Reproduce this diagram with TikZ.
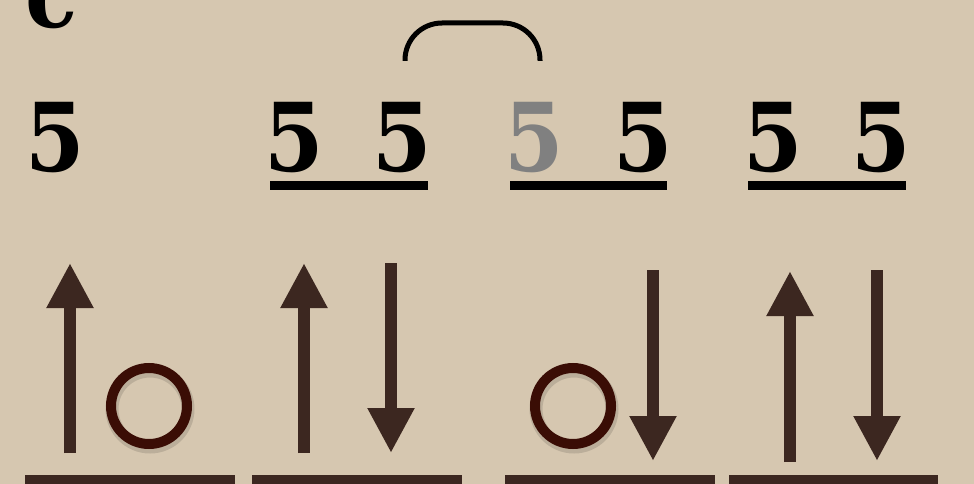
\documentclass[tikz,border=0pt]{standalone}
\usepackage{fontspec}
\newfontfamily\digitfont{DejaVu Serif Condensed}
\usetikzlibrary{arrows.meta,calc}
\definecolor{paper}{RGB}{214,199,176}
\definecolor{arrowbrown}{RGB}{60,39,32}
\definecolor{ringbrown}{RGB}{58,13,5}
\definecolor{greyfive}{RGB}{128,128,128}
\begin{document}
\begin{tikzpicture}[x=1pt,y=-1pt,
  digit/.style={inner sep=0pt,anchor=base,font=\digitfont\fontsize{95}{95}\selectfont\bfseries},
  uline/.style={fill=black},
  spinarrow/.style={draw=arrowbrown,line width=12pt,-{Triangle[width=44pt,length=45pt]}},
  ring/.style={draw=ringbrown,line width=10pt},
  ringshadow/.style={draw=black,opacity=0.12,line width=13pt},
  bar/.style={fill=arrowbrown},
  tie/.style={draw=black,line width=5pt,rounded corners=37pt}]
\useasboundingbox (0,0) rectangle (974,484);
\fill[paper] (0,0) rectangle (974,484);
\begin{scope}
\clip (0,0) rectangle (974,484);
% label
\node[digit] (lab) at (52,28) {c};
% digits
\node[digit] (d1) at (55,171) {5};
\node[digit] (d2) at (294,171) {5};
\node[digit] (d3) at (402,171) {5};
\node[digit,text=greyfive] (d4) at (534,171) {5};
\node[digit] (d5) at (643,171) {5};
\node[digit] (d6) at (773,171) {5};
\node[digit] (d7) at (881,171) {5};
% underlines
\fill[uline] (270,181) rectangle (428,190);
\fill[uline] (510,181) rectangle (667,190);
\fill[uline] (748,181) rectangle (906,190);
% tie
\coordinate (tA) at (405,61);
\coordinate (tB) at (405,23);
\coordinate (tC) at (540,23);
\coordinate (tD) at (540,61);
\draw[tie] (tA) -- (tB) -- (tC) -- (tD);
% arrows
\coordinate (u1s) at (70,453); \coordinate (u1e) at (70,263);
\coordinate (u2s) at (304,453); \coordinate (u2e) at (304,263);
\coordinate (n1s) at (391,263); \coordinate (n1e) at (391,453);
\coordinate (n2s) at (653,270); \coordinate (n2e) at (653,461);
\coordinate (u3s) at (790,462); \coordinate (u3e) at (790,271);
\coordinate (n3s) at (877,270); \coordinate (n3e) at (877,461);
\draw[spinarrow] (u1s) -- (u1e);
\draw[spinarrow] (u2s) -- (u2e);
\draw[spinarrow] (n1s) -- (n1e);
\draw[spinarrow] (n2s) -- (n2e);
\draw[spinarrow] (u3s) -- (u3e);
\draw[spinarrow] (n3s) -- (n3e);
% holes
\coordinate (h1) at (149,406);
\coordinate (h2) at (573,406);
\draw[ringshadow] ($(h1)+(1,3)$) circle[radius=38];
\draw[ringshadow] ($(h2)+(1,3)$) circle[radius=38];
\draw[ring] (h1) circle[radius=38];
\draw[ring] (h2) circle[radius=38];
% bars
\fill[bar] (25,475) rectangle (235,490);
\fill[bar] (252,475) rectangle (462,490);
\fill[bar] (505,475) rectangle (715,490);
\fill[bar] (729,475) rectangle (938,490);
\end{scope}
\end{tikzpicture}
\end{document}
